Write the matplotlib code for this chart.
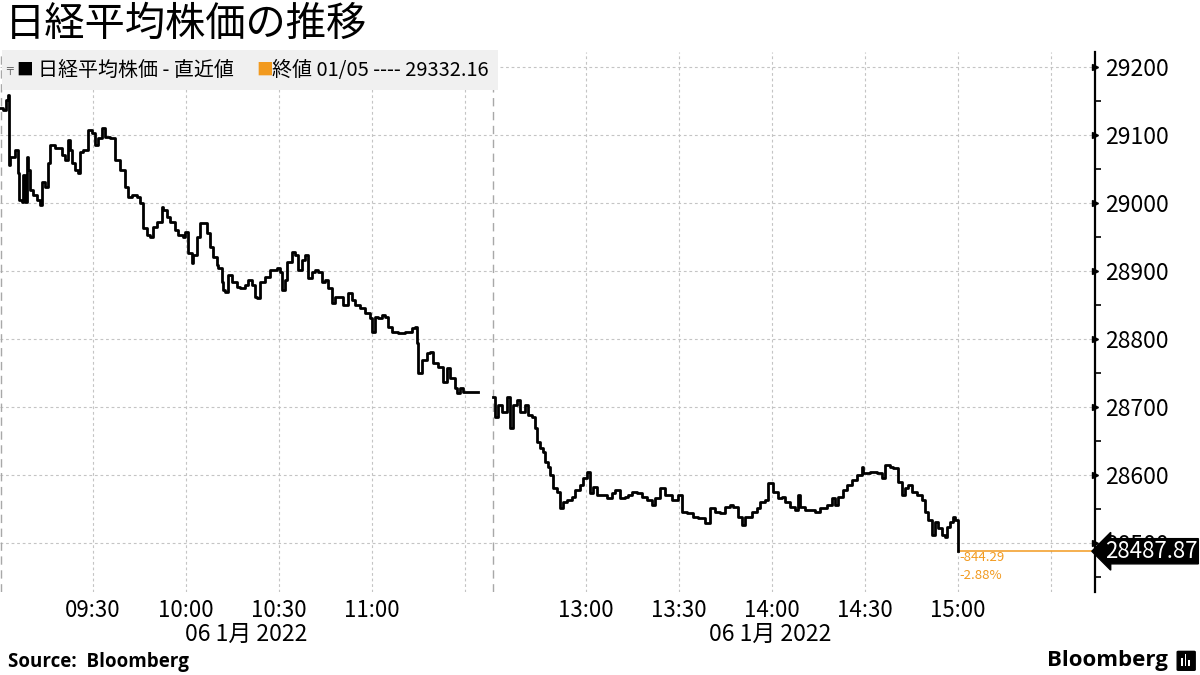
import numpy as np
import matplotlib
matplotlib.use("Agg")
import matplotlib.pyplot as plt
import matplotlib.transforms as mtransforms
from matplotlib.patches import Rectangle, FancyBboxPatch
from matplotlib.ticker import MultipleLocator

plt.rcParams['font.family'] = ['Noto Sans CJK JP', 'DejaVu Sans']

# morning session: minutes after 09:00, price
am_min = [0, 1, 1.9, 2.6, 2.9, 3.2, 4.8, 5.8, 6.2, 7.1, 7.4, 8.1, 8.7, 9.0, 9.7, 10.6,
          11.9, 12.9, 13.5, 14.5, 15.5, 16.1, 17.7, 20.0, 21.0, 21.9, 22.6, 23.2, 24.2,
          25.2, 25.8, 26.8, 28.4, 29.7, 30.6, 31.6, 32.9, 33.9, 35.5, 37.1, 38.7, 40.3,
          41.3, 42.6, 44.2, 45.2, 46.1, 47.4, 48.4, 49.4, 50.6, 52.3, 52.6, 53.9, 54.8,
          56.5, 57.4, 59.0, 59.7, 60.6, 61.9, 62.3, 63.5, 64.5, 65.5, 66.8, 67.7, 68.7,
          70.0, 70.3, 71.6, 71.9, 72.6, 73.5, 74.8, 76.5, 77.4, 79.0, 80.0,
          81.3, 82.3, 82.9, 83.9, 85.5, 87.1, 89.4, 90.3, 91.0, 91.9, 92.6, 94.2, 95.2,
          96.1, 97.4, 98.4, 99.4, 100.6, 101.6, 102.6, 103.9, 104.8, 105.8, 107.1, 108.1,
          109.7, 110.6, 112.3, 113.5, 114.5, 116.1, 117.7, 119.4, 120.0, 121.0, 121.9,
          123.2, 124.2, 125.2, 126.5, 128.4, 130.6, 132.9, 133.9, 134.5, 134.8, 136.1,
          137.7, 138.7, 139.7, 141.3, 142.9, 144.2, 145.2, 146.8, 147.4, 148.4, 149.4, 154.2]
am_px = [29140, 29137, 29151, 29159, 29056, 29068, 29078, 29044, 29004, 29001, 29041, 29001,
         29068, 29049, 29019, 29012, 29004, 28997, 29031, 29024, 29059, 29085, 29081, 29071,
         29063, 29093, 29078, 29059, 29049, 29044, 29075, 29078, 29107, 29103, 29085, 29096,
         29110, 29097, 29096, 29063, 29049, 29024, 29009, 29012, 29009, 29000, 28963, 28953,
         28950, 28965, 28972, 28994, 28990, 28979, 28972, 28960, 28953, 28950, 28957, 28926,
         28912, 28924, 28950, 28971, 28971, 28956, 28935, 28921, 28909, 28904, 28884, 28872,
         28869, 28894, 28884, 28876, 28875, 28879, 28887,
         28879, 28862, 28860, 28884, 28891, 28901, 28904, 28899, 28872, 28887, 28913, 28928,
         28924, 28901, 28916, 28924, 28890, 28899, 28901, 28899, 28884, 28887, 28875, 28853,
         28862, 28862, 28850, 28868, 28857, 28850, 28846, 28838, 28831, 28810, 28832, 28831,
         28835, 28832, 28818, 28810, 28809, 28810, 28816, 28818, 28794, 28750, 28769, 28779,
         28781, 28765, 28759, 28737, 28757, 28743, 28728, 28721, 28728, 28722, 28722]

# afternoon session: minutes after 12:30, price
pm_min = [0, 0.6, 1.6, 2.9, 4.5, 5.5, 6.5, 7.7, 8.7, 10.3, 11.3, 12.6, 13.5, 14.2, 15.2, 16.1,
          16.8, 17.7, 18.4, 19.4, 20.6, 21.6, 22.6, 23.9, 25.5, 26.5, 28.1, 29.0, 30.3, 31.3,
          32.3, 33.5, 35.2, 36.8, 38.4, 39.4, 41.0, 42.6, 43.5, 44.8, 46.5, 48.1, 49.7, 51.3,
          52.3, 53.9, 55.5, 57.7, 59.7, 61.0, 62.6, 64.5, 66.1, 68.4, 70.0, 71.6, 73.2, 74.8,
          76.5, 77.4, 79.0, 80.3, 81.3, 83.5, 85.2, 86.1, 87.7, 88.7, 90.3, 91.9, 93.2, 94.2,
          95.8, 97.4, 98.4, 99.0, 100.6, 102.3, 103.9, 105.5, 107.7, 109.4, 110.3, 111.3,
          112.9, 114.2, 115.8, 117.4, 119.0, 119.4, 121.6, 123.9, 125.5, 126.5, 128.1, 129.0,
          130.6, 131.9, 132.9, 133.9, 135.2, 136.8, 138.4, 139.4, 140.3, 141.6, 142.6, 143.5,
          144.8, 145.8, 146.5, 147.4, 148.4, 149.0, 150.0]
pm_px = [28715, 28685, 28703, 28693, 28715, 28669, 28703, 28710, 28693, 28703, 28688, 28685,
         28669, 28649, 28640, 28634, 28619, 28612, 28600, 28581, 28575, 28551, 28560, 28563,
         28568, 28578, 28585, 28596, 28604, 28574, 28582, 28571, 28571, 28566, 28574, 28578,
         28566, 28568, 28571, 28575, 28574, 28568, 28563, 28556, 28566, 28581, 28571, 28563,
         28571, 28546, 28544, 28538, 28537, 28529, 28551, 28546, 28544, 28553, 28556, 28553,
         28538, 28526, 28538, 28546, 28551, 28560, 28563, 28588, 28575, 28566, 28568, 28560,
         28553, 28549, 28571, 28553, 28549, 28549, 28546, 28551, 28556, 28566, 28556, 28568,
         28578, 28585, 28593, 28600, 28612, 28603, 28604, 28603, 28596, 28615, 28612, 28610,
         28590, 28571, 28581, 28585, 28575, 28571, 28563, 28546, 28534, 28512, 28531, 28522,
         28512, 28509, 28524, 28531, 28538, 28534, 28487.87]

last_price = 28487.87
prev_close = 29332.16
change = last_price - prev_close
change_pct = change / prev_close * 100

tick_labels = ["09:30", "10:00", "10:30", "11:00", "", "13:00", "13:30", "14:00", "14:30", "15:00", ""]
am_ticks = [30, 60, 90, 120, 150]
pm_ticks = [30, 60, 90, 120, 150, 180]   # minutes after 12:30
pm_offset = 159   # axis position of 12:30 (lunch break squeezed)

orange = '#f29a1f'

fig = plt.figure(figsize=(12, 6.75), dpi=100)
ax = fig.add_axes([0.0, 0.123, 0.9125, 0.800])

ax.plot(am_min, am_px, color='black', lw=2.0, drawstyle='steps-post', zorder=4)
ax.plot(np.array(pm_min) + pm_offset, pm_px, color='black', lw=2.0, drawstyle='steps-post', zorder=4)

x_end = 353.2
ax.set_xlim(0, x_end)
ax.set_ylim(28428, 29222)

# last value line + change
x_last = pm_offset + pm_min[-1]
ax.plot([x_last, x_end], [last_price, last_price], color=orange, lw=1.1, zorder=3, clip_on=False)
ax.text(x_last + 0.4, 28478, "-%.2f" % abs(change), color=orange, fontsize=9.5, va='center', ha='left')
ax.text(x_last + 0.4, 28452, "-%.2f%%" % abs(change_pct), color=orange, fontsize=9.5, va='center', ha='left')

# axes styling
for s in ['top', 'left', 'bottom']:
    ax.spines[s].set_visible(False)
ax.spines['right'].set_linewidth(1.6)
ax.yaxis.tick_right()
ax.set_yticks(np.arange(28500, 29201, 100))
ax.yaxis.set_minor_locator(MultipleLocator(50))
ax.tick_params(axis='y', which='major', length=0, pad=7, labelsize=16.5)
ax.tick_params(axis='y', which='minor', length=4, width=1.2, direction='out')
for v in np.arange(28500, 29201, 100):
    ax.plot([x_end], [v], marker='>', color='black', markersize=5, clip_on=False, zorder=6)

xt = am_ticks + [pm_offset + t for t in pm_ticks]
ax.set_xticks(xt)
ax.set_xticklabels(tick_labels[:4] + [""] + tick_labels[5:])
ax.tick_params(axis='x', length=0, pad=5, labelsize=16)

ax.grid(True, which='major', color='#c4c4c4', linestyle=(0, (2.5, 2.5)), lw=0.8)
ax.set_axisbelow(True)
for xs in [0.3, pm_offset]:
    ax.axvline(xs, color='#a8a8a8', lw=1.0, linestyle=(0, (6, 4)), zorder=2)

# date labels under the time ticks
trans = mtransforms.blended_transform_factory(ax.transData, fig.transFigure)
ax.text(79.5, 0.060, "06 1月 2022", transform=trans, ha='center', va='center', fontsize=16.5)
ax.text(248.5, 0.060, "06 1月 2022", transform=trans, ha='center', va='center', fontsize=16.5)

# last price tag
ax.annotate("%.2f" % last_price, xy=(1.0, last_price), xycoords=('axes fraction', 'data'),
            xytext=(7, 0), textcoords='offset points', ha='left', va='center',
            fontsize=16, color='white', annotation_clip=False, zorder=7,
            bbox=dict(boxstyle='larrow,pad=0.05', fc='black', ec='black'))

# title
fig.text(0.004, 0.964, "日経平均株価の推移", fontsize=29, ha='left', va='center')

# legend bar
fig.patches.append(Rectangle((0.0017, 0.8667), 0.413, 0.0593, transform=fig.transFigure,
                             facecolor='#f0f0f0', edgecolor='none', zorder=5))
ly = 0.896
fig.text(0.0075, ly, "╤", fontsize=8, color='#666666', ha='center', va='center', zorder=6,
         family=['DejaVu Sans'])
fig.text(0.0135, ly, "■", fontsize=12, color='black', ha='left', va='center', zorder=6)
fig.text(0.0315, ly, "日経平均株価 - 直近値", fontsize=14.4, ha='left', va='center', zorder=6)
fig.text(0.2135, ly, "■", fontsize=12, color=orange, ha='left', va='center', zorder=6)
fig.text(0.2265, ly, "終値 01/05 ---- %.2f" % prev_close, fontsize=14.4, ha='left', va='center', zorder=6)

# footer
fig.text(0.007, 0.019, "Source:  Bloomberg", fontsize=13.5, fontweight='bold',
         family=['Open Sans', 'DejaVu Sans'], ha='left', va='center')
fig.text(0.973, 0.022, "Bloomberg", fontsize=16, fontweight='bold',
         family=['Open Sans', 'DejaVu Sans'], ha='right', va='center')
fig.patches.append(FancyBboxPatch((0.982, 0.008), 0.013, 0.026, boxstyle='round,pad=0.001',
                                  transform=fig.transFigure, fc='black', ec='black'))
for i, h in enumerate([0.012, 0.018, 0.009]):
    fig.patches.append(Rectangle((0.9845 + i * 0.0028, 0.013), 0.0014, h,
                                 transform=fig.transFigure, fc='white', ec='none'))

fig.savefig("out.png", dpi=100)
